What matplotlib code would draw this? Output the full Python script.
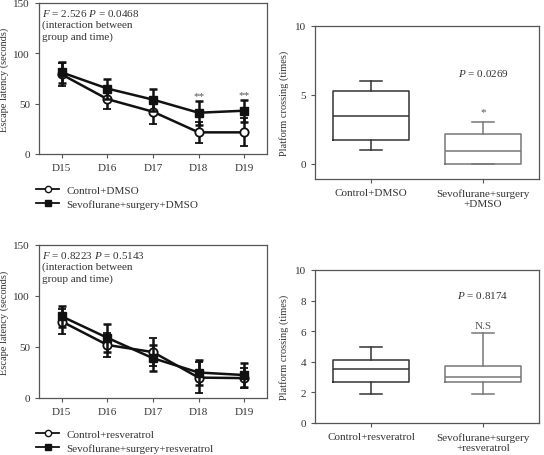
import matplotlib
matplotlib.use("Agg")
import matplotlib.pyplot as plt
from matplotlib.lines import Line2D

plt.rcParams['font.family'] = ['Liberation Serif', 'DejaVu Serif']
plt.rcParams['mathtext.fontset'] = 'custom'
plt.rcParams['mathtext.it'] = 'Liberation Serif:italic'
plt.rcParams['mathtext.rm'] = 'Liberation Serif'
plt.rcParams['font.size'] = 8

days = ["D15", "D16", "D17", "D18", "D19"]

# Panel A (DMSO)
ctrl_dmso = [79, 54.5, 42, 21.5, 21.5]
ctrl_dmso_sd = [11, 10, 12, 10.5, 14]
sevo_dmso = [81, 65, 54, 41, 43]
sevo_dmso_sd = [10, 10, 11, 12, 11]
sig_dmso = ["", "", "", "**", "**"]

# Panel C (resveratrol)
ctrl_res = [75, 52, 45, 20, 19.5]
ctrl_res_sd = [12, 12, 14, 15, 10]
sevo_res = [80, 59, 39, 25, 22.5]
sevo_res_sd = [10, 14, 13, 12, 12]

# Box stats: (whislo, q1, median, q3, whishi)
box_dmso_labels = ["Control+DMSO", "Sevoflurane+surgery\n+DMSO"]
box_dmso = [(1.0, 1.7, 3.5, 5.3, 6.0), (0.0, 0.0, 0.95, 2.2, 3.0)]
box_res_labels = ["Control+resveratrol", "Sevoflurane+surgery\n+resveratrol"]
box_res = [(1.9, 2.7, 3.5, 4.15, 5.0), (1.9, 2.7, 3.0, 3.75, 5.9)]

W, H = 544, 456
fig = plt.figure(figsize=(W / 100, H / 100), dpi=100)

def px(l, t, r, b):
    return [l / W, (H - b) / H, (r - l) / W, (b - t) / H]

spine_c = '#555555'
text_c = '#333333'

def style(ax):
    for s in ax.spines.values():
        s.set_color(spine_c)
        s.set_linewidth(0.9)
    ax.tick_params(colors=spine_c, labelcolor=text_c, direction='out', length=3, width=0.8, labelsize=8)

def line_panel(ax, c, csd, s, ssd, sig, ftext, leg_labels):
    x = list(range(len(days)))
    ax.errorbar(x, c, yerr=csd, color='#111111', lw=1.8, capsize=3, capthick=1.8,
                marker='o', mfc='white', mec='#111111', ms=6, mew=1.3, zorder=3)
    ax.errorbar(x, s, yerr=ssd, color='#111111', lw=1.8, capsize=3, capthick=1.8,
                marker='s', mfc='#111111', mec='#111111', ms=6, zorder=4)
    for xi, (si, sd, t) in enumerate(zip(s, ssd, sig)):
        if t:
            ax.text(xi, si + sd + 1, t, ha='center', va='bottom', fontsize=8, color='#555555')
    ax.set_xlim(-0.5, 4.5)
    ax.set_ylim(0, 150)
    ax.set_yticks([0, 50, 100, 150])
    ax.set_xticks(x)
    ax.set_xticklabels(days)
    ax.set_ylabel("Escape latency (seconds)", fontsize=7.5, color=text_c, labelpad=3)
    ax.text(0.015, 0.975, ftext + "\n(interaction between\ngroup and time)", transform=ax.transAxes,
            ha='left', va='top', fontsize=8, color=text_c, linespacing=1.25)
    style(ax)
    handles = [Line2D([], [], color='#111111', lw=1.3, marker='o', mfc='white', mec='#111111', ms=4.5),
               Line2D([], [], color='#111111', lw=1.3, marker='s', mfc='#111111', ms=4.5)]
    ax.legend(handles, leg_labels, loc='upper left', bbox_to_anchor=(-0.055, -0.14), frameon=False,
              fontsize=8, handlelength=2.0, labelspacing=0.35, handletextpad=0.7, labelcolor=text_c)

def box_panel(ax, stats, labels, ptext, ptext_y, mark, mark_y, ylim, yticks):
    colors = ['#333333', '#777777']
    for i, (st, col) in enumerate(zip(stats, colors)):
        b = dict(whislo=st[0], q1=st[1], med=st[2], q3=st[3], whishi=st[4], fliers=[])
        ax.bxp([b], positions=[i + 1], widths=0.67, capwidths=0.2, showfliers=False,
               boxprops=dict(color=col, lw=1.1), medianprops=dict(color=col, lw=1.1),
               whiskerprops=dict(color=col, lw=1.1), capprops=dict(color=col, lw=1.1))
    ax.set_xlim(0.5, 2.5)
    ax.set_ylim(*ylim)
    ax.set_yticks(yticks)
    ax.set_xticks([1, 2])
    ax.set_xticklabels(labels)
    ax.set_ylabel("Platform crossing (times)", fontsize=7.5, color=text_c)
    ax.text(2, ptext_y, ptext, ha='center', va='center', fontsize=8, color=text_c)
    ax.text(2, mark_y, mark, ha='center', va='center', fontsize=8, color='#555555')
    style(ax)

axA = fig.add_axes(px(39, 4, 267, 155))
line_panel(axA, ctrl_dmso, ctrl_dmso_sd, sevo_dmso, sevo_dmso_sd, sig_dmso,
           "$F$ = 2.526 $P$ = 0.0468", ["Control+DMSO", "Sevoflurane+surgery+DMSO"])

axC = fig.add_axes(px(39, 246, 267, 399))
line_panel(axC, ctrl_res, ctrl_res_sd, sevo_res, sevo_res_sd, [""] * 5,
           "$F$ = 0.8223 $P$ = 0.5143", ["Control+resveratrol", "Sevoflurane+surgery+resveratrol"])

axB = fig.add_axes(px(315, 27, 539, 180))
box_panel(axB, box_dmso, box_dmso_labels, "$P$ = 0.0269", 6.6, "*", 3.8, (-1.1, 10), [0, 5, 10])

axD = fig.add_axes(px(315, 271, 539, 424))
box_panel(axD, box_res, box_res_labels, "$P$ = 0.8174", 8.4, "N.S", 6.4, (0, 10), [0, 2, 4, 6, 8, 10])

fig.savefig("out.png", dpi=100)
